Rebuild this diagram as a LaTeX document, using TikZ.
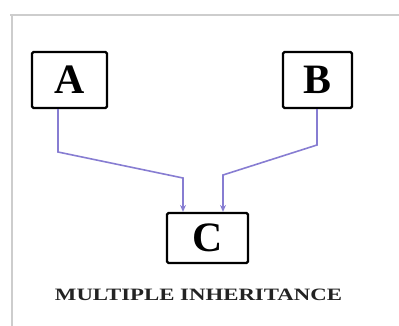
\documentclass[tikz,border=0pt]{standalone}
\usepackage{fontspec}
\setmainfont{Liberation Serif}
\usetikzlibrary{arrows.meta}
\definecolor{arrowc}{RGB}{135,125,210}
\definecolor{framec}{RGB}{205,205,205}
\definecolor{textc}{RGB}{35,35,35}
\tikzset{
  classbox/.style={draw=black, line width=2.2pt, rounded corners=1.5pt, fill=white, inner sep=0pt, font=\fontsize{42}{42}\selectfont\bfseries},
  inherit/.style={draw=arrowc, line width=1.6pt, -{Stealth[length=7pt,width=6pt]}},
  framel/.style={draw=framec, line width=1.5pt}
}
\begin{document}
\begin{tikzpicture}[x=1bp,y=-1bp]
\useasboundingbox (0,0) rectangle (399,326);
\fill[white] (0,0) rectangle (399,326);
\draw[framel] (10,15) -- (399,15);
\draw[framel] (12,15) -- (12,326);
\node[classbox, minimum width=75bp, minimum height=56bp] (A) at (69.5,80) {A};
\node[classbox, minimum width=69bp, minimum height=56bp] (B) at (317.5,80) {B};
\node[classbox, minimum width=81bp, minimum height=50bp] (C) at (207.5,238) {C};
\coordinate (a1) at (58,152);
\coordinate (a2) at (183,178);
\coordinate (b1) at (317,145);
\coordinate (b2) at (223,175);
\draw[inherit] (A.south -| a1) -- (a1) -- (a2) -- (a2 |- C.north);
\draw[inherit] (B.south -| b1) -- (b1) -- (b2) -- (b2 |- C.north);
\node[text=textc, font=\bfseries\fontsize{14}{14}\selectfont, inner sep=0pt] (T) at (198.5,294.5) {\resizebox{287bp}{11.5bp}{MULTIPLE INHERITANCE}};
\end{tikzpicture}
\end{document}
